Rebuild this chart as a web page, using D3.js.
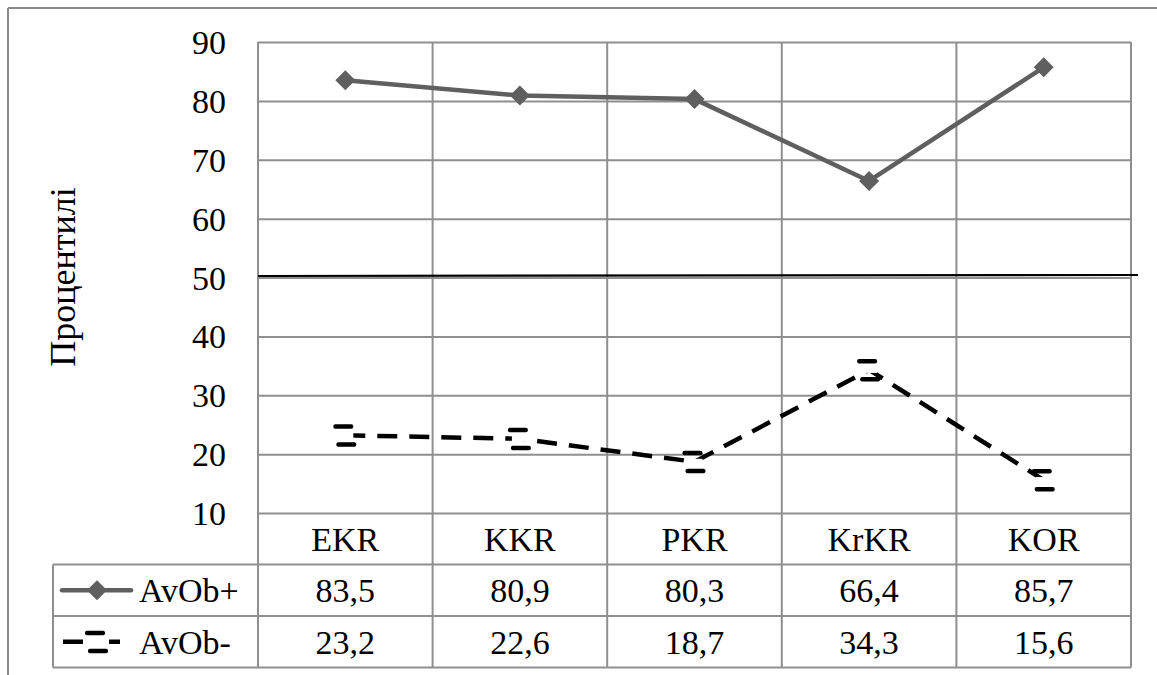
<!DOCTYPE html>
<html>
<head>
<meta charset="utf-8">
<script src="https://cdn.jsdelivr.net/npm/d3@7"></script>
</head>
<body style="margin:0">
<svg id="chart" width="1157" height="675"></svg>
<script>
const categories = ["EKR", "KKR", "PKR", "KrKR", "KOR"];
const avObPlus = [83.5, 80.9, 80.3, 66.4, 85.7];
const avObMinus = [23.2, 22.6, 18.7, 34.3, 15.6];
const seriesNames = ["AvOb+", "AvOb-"];
const yTicks = [10, 20, 30, 40, 50, 60, 70, 80, 90];
const referenceValue = 50;
const yAxisTitle = "Процентилі";

const svg = d3.select("#chart");
const FF = "'Liberation Serif', 'Tinos', 'Nimbus Roman', 'FreeSerif', serif";
const W = 1157, H = 675;
const pL = 258, pR = 1131, pT = 42, pB = 513;
const rowH = 51.5;
const legendLeft = 53;
const gridColor = "#8f8f8f";
const fontSize = 34;

const x = d3.scaleBand().domain(categories).range([pL, pR]).padding(0);
const y = d3.scaleLinear().domain([10, 90]).range([pB, pT]);
const fmt = v => d3.format(".1f")(v).replace(".", ",");
const cx = (d, i) => x(categories[i]) + x.bandwidth() / 2;

function txt(sel, size) {
  const s = size || fontSize;
  return sel.attr("font-family", FF).attr("font-size", s).attr("fill", "#000")
    .style("font-family", FF, "important").style("font-size", s + "px", "important");
}

// outer frame
svg.append("line").attr("x1", 8).attr("x2", W).attr("y1", 8).attr("y2", 8)
  .attr("stroke", "#8a8a8a").attr("stroke-width", 2);
svg.append("line").attr("x1", 8).attr("x2", 8).attr("y1", 8).attr("y2", H)
  .attr("stroke", "#8a8a8a").attr("stroke-width", 2);

// horizontal gridlines
const gridG = svg.append("g").attr("transform", `translate(${pL},0)`)
  .call(d3.axisLeft(y).tickValues(yTicks).tickSize(-(pR - pL)).tickFormat(""));
gridG.select(".domain").remove();
gridG.selectAll(".tick line").attr("stroke", gridColor).attr("stroke-width", 2);

// tick labels
svg.append("g").selectAll("text").data(yTicks).join("text")
  .attr("x", 226).attr("y", d => y(d) + 12).attr("text-anchor", "end")
  .call(txt).text(d => d);

// table rows
const tableBottom = pB + 3 * rowH;
[pB + rowH, pB + 2 * rowH, tableBottom].forEach(yy => {
  svg.append("line").attr("x1", legendLeft).attr("x2", pR).attr("y1", yy).attr("y2", yy)
    .attr("stroke", gridColor).attr("stroke-width", 2);
});
categories.map(c => x(c)).concat([pR]).forEach(xx => {
  svg.append("line").attr("x1", xx).attr("x2", xx).attr("y1", pT).attr("y2", tableBottom)
    .attr("stroke", gridColor).attr("stroke-width", 2);
});
svg.append("line").attr("x1", legendLeft).attr("x2", legendLeft)
  .attr("y1", pB + rowH).attr("y2", tableBottom)
  .attr("stroke", gridColor).attr("stroke-width", 2);

// reference line at 50
svg.append("line").attr("x1", pL).attr("x2", pR + 7)
  .attr("y1", y(referenceValue) - 1.5).attr("y2", y(referenceValue) - 2.5)
  .attr("stroke", "#000").attr("stroke-width", 2.2);

// category labels
svg.append("g").selectAll("text").data(categories).join("text")
  .attr("x", d => x(d) + x.bandwidth() / 2).attr("y", pB + rowH / 2 + 12)
  .attr("text-anchor", "middle")
  .call(txt).text(d => d);

// data rows
[avObPlus, avObMinus].forEach((vals, r) => {
  svg.append("g").selectAll("text").data(vals).join("text")
    .attr("x", cx)
    .attr("y", pB + rowH * (r + 1) + rowH / 2 + 12)
    .attr("text-anchor", "middle")
    .call(txt).text(d => fmt(d));
});

// series
const line = d3.line().x(cx).y(d => y(d));

svg.append("path").datum(avObPlus).attr("d", line)
  .attr("fill", "none").attr("stroke", "#5f5f5f").attr("stroke-width", 4.5)
  .attr("stroke-linejoin", "round");
const diamond = d3.symbol().type(d3.symbolSquare).size(200);
svg.append("g").selectAll("path").data(avObPlus).join("path")
  .attr("d", diamond)
  .attr("transform", (d, i) => `translate(${cx(d, i)},${y(d)}) rotate(45)`)
  .attr("fill", "#5f5f5f");

svg.append("path").datum(avObMinus).attr("d", line)
  .attr("fill", "none").attr("stroke", "#000").attr("stroke-width", 4.5)
  .attr("stroke-dasharray", "20,12");

function minusMarker(g, px, py) {
  g.append("rect").attr("x", px - 8).attr("y", py - 3).attr("width", 16).attr("height", 6)
    .attr("fill", "#fff");
  g.append("rect").attr("x", px - 12).attr("y", py - 11).attr("width", 20).attr("height", 4.5)
    .attr("rx", 2).attr("fill", "#000");
  g.append("rect").attr("x", px - 9).attr("y", py + 7).attr("width", 20).attr("height", 4.5)
    .attr("rx", 2).attr("fill", "#000");
}
const mg = svg.append("g");
avObMinus.forEach((d, i) => minusMarker(mg, cx(d, i), y(d)));

// legend keys
const ly1 = pB + rowH * 1.5, ly2 = pB + rowH * 2.5;
svg.append("line").attr("x1", 62).attr("x2", 131).attr("y1", ly1).attr("y2", ly1)
  .attr("stroke", "#5f5f5f").attr("stroke-width", 4.5).attr("stroke-linecap", "round");
svg.append("path").attr("d", diamond)
  .attr("transform", `translate(97,${ly1}) rotate(45)`).attr("fill", "#5f5f5f");
svg.append("line").attr("x1", 63).attr("x2", 83).attr("y1", ly2).attr("y2", ly2)
  .attr("stroke", "#000").attr("stroke-width", 4.5);
svg.append("line").attr("x1", 109).attr("x2", 120).attr("y1", ly2).attr("y2", ly2)
  .attr("stroke", "#000").attr("stroke-width", 4.5);
minusMarker(svg.append("g"), 97, ly2);

svg.append("g").selectAll("text").data(seriesNames).join("text")
  .attr("x", 139).attr("y", (d, i) => pB + rowH * (i + 1) + rowH / 2 + 12)
  .call(txt).text(d => d);

// y axis title
svg.append("text")
  .attr("transform", `translate(75,277) rotate(-90)`)
  .attr("text-anchor", "middle")
  .call(txt, 36)
  .text(yAxisTitle);
</script>
</body>
</html>
